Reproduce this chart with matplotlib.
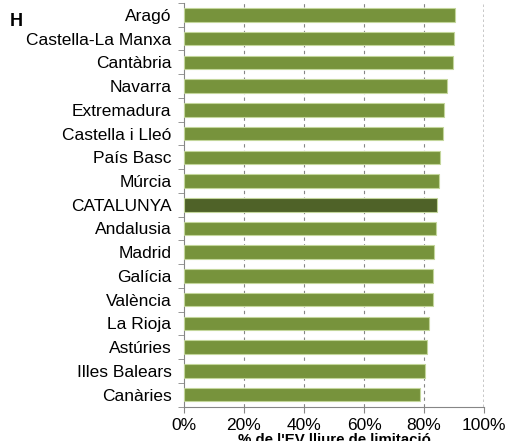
import numpy as np
import matplotlib.pyplot as plt
from matplotlib.ticker import FixedLocator, PercentFormatter

regions = ['Aragó', 'Castella-La Manxa', 'Cantàbria', 'Navarra', 'Extremadura',
           'Castella i Lleó', 'País Basc', 'Múrcia', 'CATALUNYA', 'Andalusia',
           'Madrid', 'Galícia', 'València', 'La Rioja', 'Astúries',
           'Illes Balears', 'Canàries']
values = [90.3, 90.0, 89.6, 87.6, 86.7, 86.2, 85.3, 84.9, 84.4, 83.9,
          83.3, 83.0, 83.0, 81.8, 81.0, 80.4, 78.5]

plt.rcParams['font.family'] = ['Liberation Sans', 'DejaVu Sans']

fig = plt.figure(figsize=(5.06, 4.41), dpi=100)
ax = fig.add_axes([184 / 506, 1 - 406.5 / 441, 300 / 506, 403.5 / 441])

colors = ['#4F6228' if r == 'CATALUNYA' else '#77933C' for r in regions]
y = np.arange(len(regions))
ax.barh(y, values, height=0.57, color=colors, edgecolor='#C3D69B', linewidth=0.8, zorder=3)

ax.set_xlim(0, 100)
ax.set_ylim(len(regions) - 0.5, -0.5)
ax.set_yticks(y)
ax.set_yticklabels(regions, fontsize=12.5)
ax.yaxis.set_minor_locator(FixedLocator(np.arange(-0.5, len(regions), 1)))
ax.tick_params(axis='y', which='major', length=0, pad=9)
ax.tick_params(axis='y', which='minor', length=4, color='#868686', direction='out')

ax.set_xticks(np.arange(0, 101, 20))
ax.xaxis.set_major_formatter(PercentFormatter(decimals=0))
ax.tick_params(axis='x', length=4, color='#868686', labelsize=12.5, pad=4)
ax.set_xlabel("% de l'EV lliure de limitació", fontsize=10.8, fontweight='bold', labelpad=0)

for v in [20, 40, 60, 80]:
    ax.axvline(v, color='#868686', linestyle=(0, (3, 3)), linewidth=0.8, zorder=1)
ax.axvline(100, color='#BFBFBF', linestyle=(0, (1.5, 1.5)), linewidth=1.2, zorder=1)

for s in ['top', 'right']:
    ax.spines[s].set_visible(False)
for s in ['left', 'bottom']:
    ax.spines[s].set_color('#868686')

fig.text(10 / 506, 1 - 21 / 441, 'H', fontsize=13, fontweight='bold', va='center', ha='left')

fig.savefig('out.png', dpi=100)
